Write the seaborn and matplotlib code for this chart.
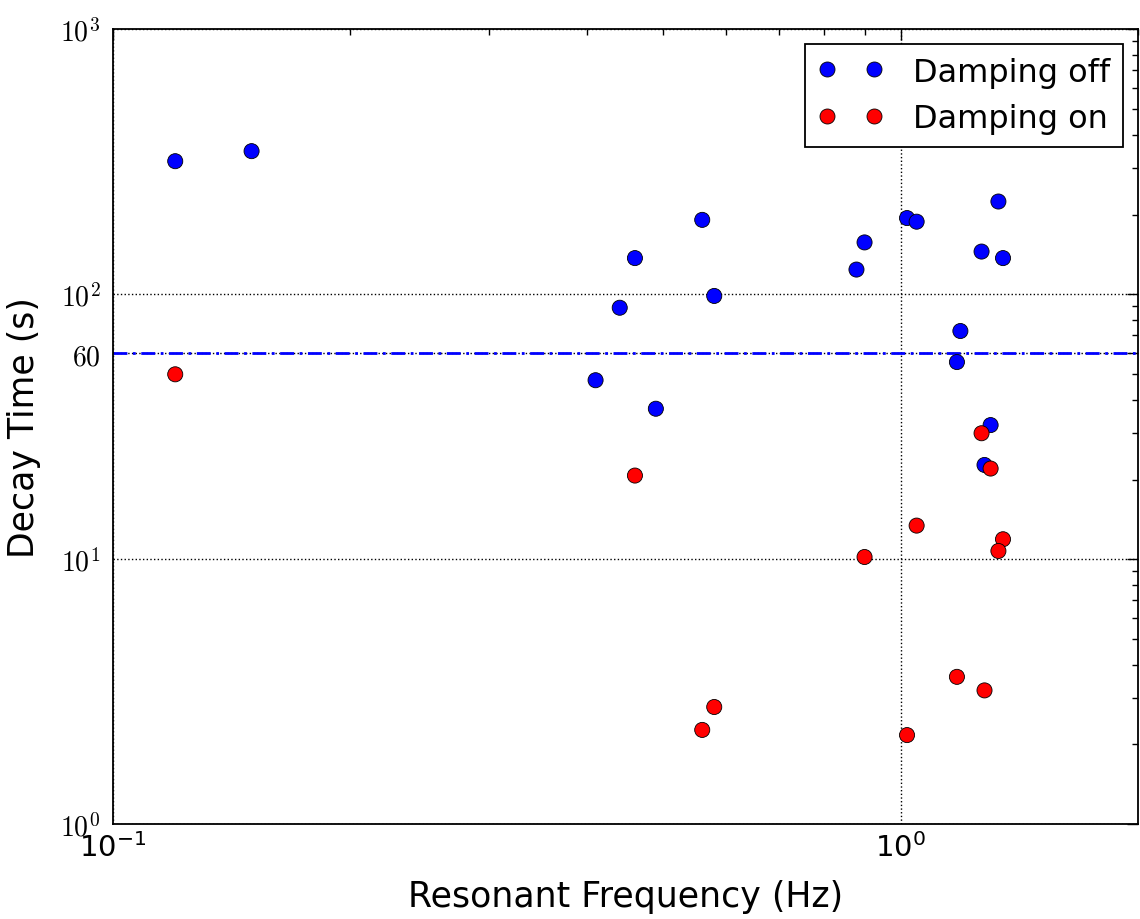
import numpy as np
import pandas as pd
import matplotlib
matplotlib.use("Agg")
import matplotlib.pyplot as plt
import seaborn as sns
from matplotlib.lines import Line2D
from matplotlib.ticker import LogLocator, NullFormatter

# damping off (blue)
freq_off = [0.120, 0.150, 0.560, 0.460, 0.440, 0.580, 0.410, 0.489, 0.879, 0.900,
            1.019, 1.048, 1.331, 1.267, 1.349, 1.191, 1.179, 1.301, 1.278]
decay_off = [318, 347, 191, 137, 89, 98.6, 47.4, 37, 124, 157,
             194, 188, 224, 145, 137, 72.7, 55.5, 32.1, 22.7]

# damping on (red)
freq_on = [0.120, 0.460, 1.267, 1.301, 1.048, 1.349, 1.331, 0.900,
           0.580, 0.560, 1.019, 1.179, 1.278]
decay_on = [49.9, 20.7, 29.9, 22.0, 13.4, 11.9, 10.75, 10.2,
            2.77, 2.27, 2.17, 3.6, 3.2]

labels = ["Damping off", "Damping on"]
colors = {"Damping off": "blue", "Damping on": "red"}

df = pd.concat([
    pd.DataFrame({"freq": freq_off, "decay": decay_off, "state": labels[0]}),
    pd.DataFrame({"freq": freq_on, "decay": decay_on, "state": labels[1]}),
])

sns.set_style("white")
plt.rcParams["mathtext.fontset"] = "cm"
plt.rcParams["font.family"] = ["DejaVu Sans"]
plt.rcParams["text.color"] = "black"
plt.rcParams["axes.labelcolor"] = "black"
plt.rcParams["xtick.color"] = "black"
plt.rcParams["ytick.color"] = "black"

fig = plt.figure(figsize=(11.4, 9.2), dpi=100)
ax = fig.add_axes([0.099, 0.103, 0.899, 0.864])

# 60 s reference line
ax.axhline(60, color="blue", linestyle=(0, (5, 2, 1, 2)), linewidth=2, zorder=1)

sns.scatterplot(data=df, x="freq", y="decay", hue="state", palette=colors,
                s=118, edgecolor="black", linewidth=0.6, legend=False,
                ax=ax, zorder=3)

ax.set_xscale("log")
ax.set_yscale("log")
ax.set_xlim(0.1, 2.0)
ax.set_ylim(1, 1000)

ax.set_yticks([1, 10, 60, 100, 1000])
ax.set_yticklabels([r"$10^0$", r"$10^1$", r"$60$", r"$10^2$", r"$10^3$"], fontsize=20)
ax.yaxis.set_minor_locator(LogLocator(base=10, subs=np.arange(2, 10)))
ax.yaxis.set_minor_formatter(NullFormatter())
ax.xaxis.set_minor_formatter(NullFormatter())

ax.tick_params(axis="x", which="major", labelsize=21, pad=6)
ax.tick_params(axis="y", which="major", pad=9)
ax.tick_params(which="both", direction="in", top=True, right=True)
ax.tick_params(which="major", length=8, width=1)
ax.tick_params(which="minor", length=4, width=1)

ax.grid(True, which="major", linestyle=":", color="black", linewidth=1)
for sp in ax.spines.values():
    sp.set_color("black")
    sp.set_linewidth(1.3)

ax.set_xlabel("Resonant Frequency (Hz)", fontsize=25, labelpad=12)
ax.set_ylabel("Decay Time (s)", fontsize=25, labelpad=14)

handles = [Line2D([], [], linestyle="none", marker="o", markersize=10.8,
                  markerfacecolor=colors[l], markeredgecolor="black",
                  markeredgewidth=0.6) for l in labels]
leg = ax.legend(handles, labels, loc="upper right", numpoints=2, fontsize=23,
                frameon=True, fancybox=False, framealpha=1, borderaxespad=0.45,
                handlelength=2.05, handletextpad=0.95, labelspacing=0.5,
                borderpad=0.4)
leg.get_frame().set_edgecolor("black")
leg.get_frame().set_linewidth(1.3)

fig.savefig("out.png", dpi=100, facecolor="white")
